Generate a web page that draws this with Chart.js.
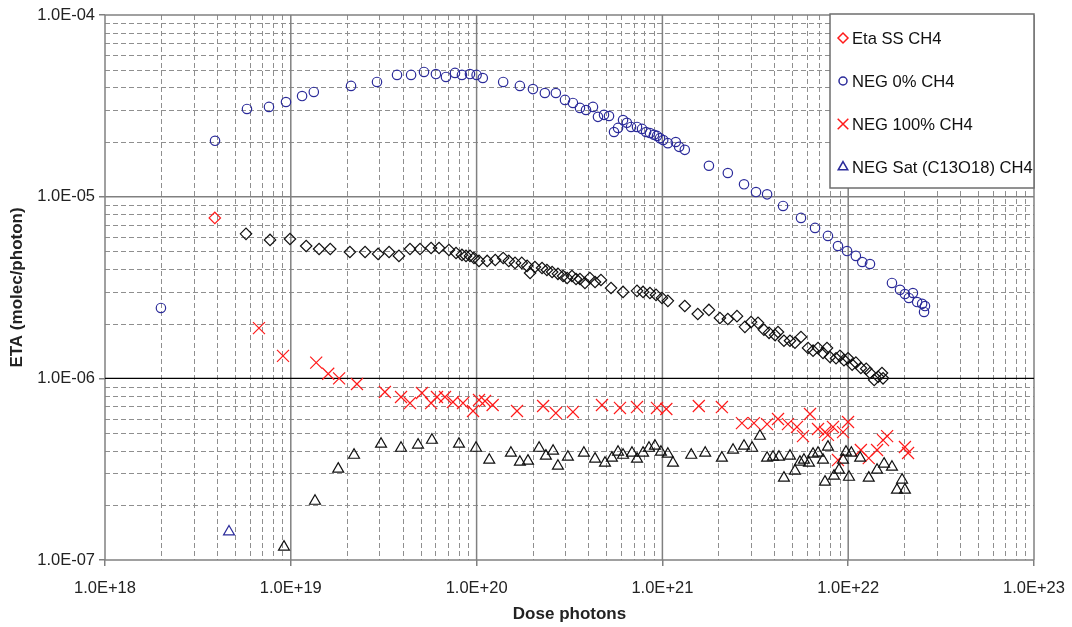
<!DOCTYPE html>
<html>
<head>
<meta charset="utf-8">
<script src="https://cdn.jsdelivr.net/npm/chart.js@4.4.1/dist/chart.umd.min.js"></script>
<style>
  body { margin: 0; background: #fff; }
  #wrap { width: 1072px; height: 627px; }
</style>
</head>
<body>
<div id="wrap"><canvas id="etaChart" width="1072" height="627"></canvas></div>
<script>
// tick values and labels
var xTickValues = [1e18, 1e19, 1e20, 1e21, 1e22, 1e23];
var xTickLabels = ['1.0E+18', '1.0E+19', '1.0E+20', '1.0E+21', '1.0E+22', '1.0E+23'];
var yTickValues = [1e-7, 1e-6, 1e-5, 1e-4];
var yTickLabels = ['1.0E-07', '1.0E-06', '1.0E-05', '1.0E-04'];

var seriesNames = ['Eta SS CH4', 'NEG 0% CH4', 'NEG 100% CH4', 'NEG Sat (C13O18) CH4'];

// Eta SS CH4 (diamonds, first point red)
var diaX = [3.9e18, 5.74e18, 7.73e18, 9.9e18, 1.21e19, 1.42e19, 1.63e19, 2.08e19, 2.51e19, 2.95e19,
  3.38e19, 3.82e19, 4.38e19, 4.96e19, 5.69e19, 6.28e19, 7.10e19, 7.75e19, 8.34e19, 8.77e19,
  9.21e19, 9.68e19, 1.03e20, 1.14e20, 1.26e20, 1.39e20, 1.49e20, 1.61e20, 1.75e20, 1.87e20,
  1.94e20, 2.06e20, 2.25e20, 2.39e20, 2.55e20, 2.74e20, 2.92e20, 3.07e20, 3.26e20, 3.43e20,
  3.60e20, 3.83e20, 4.07e20, 4.34e20, 4.67e20, 5.29e20, 6.14e20, 7.30e20, 7.87e20, 8.57e20,
  9.24e20, 9.95e20, 1.07e21, 1.32e21, 1.55e21, 1.78e21, 2.04e21, 2.25e21, 2.52e21, 2.78e21,
  3.00e21, 3.27e21, 3.52e21, 3.75e21, 4.04e21, 4.19e21, 4.51e21, 4.86e21, 5.17e21, 5.57e21,
  6.08e21, 6.47e21, 6.88e21, 7.32e21, 7.69e21, 7.98e21, 8.60e21, 9.03e21, 9.49e21, 9.98e21,
  1.05e22, 1.10e22, 1.17e22, 1.25e22, 1.31e22, 1.38e22, 1.45e22, 1.52e22, 1.54e22];
var diaY = [7.64e-6, 6.24e-6, 5.78e-6, 5.85e-6, 5.35e-6, 5.15e-6, 5.15e-6, 4.96e-6, 4.96e-6, 4.84e-6,
  4.96e-6, 4.72e-6, 5.15e-6, 5.15e-6, 5.22e-6, 5.22e-6, 5.09e-6, 4.90e-6, 4.78e-6, 4.72e-6,
  4.72e-6, 4.60e-6, 4.43e-6, 4.43e-6, 4.48e-6, 4.60e-6, 4.43e-6, 4.32e-6, 4.32e-6, 4.16e-6,
  3.80e-6, 4.10e-6, 4.05e-6, 3.95e-6, 3.85e-6, 3.76e-6, 3.66e-6, 3.57e-6, 3.66e-6, 3.52e-6,
  3.52e-6, 3.35e-6, 3.57e-6, 3.39e-6, 3.48e-6, 3.14e-6, 2.99e-6, 3.03e-6, 2.99e-6, 2.95e-6,
  2.88e-6, 2.77e-6, 2.67e-6, 2.50e-6, 2.26e-6, 2.38e-6, 2.15e-6, 2.12e-6, 2.20e-6, 1.92e-6,
  2.04e-6, 2.02e-6, 1.85e-6, 1.78e-6, 1.73e-6, 1.80e-6, 1.61e-6, 1.61e-6, 1.57e-6, 1.69e-6,
  1.47e-6, 1.42e-6, 1.47e-6, 1.38e-6, 1.47e-6, 1.31e-6, 1.29e-6, 1.33e-6, 1.26e-6, 1.29e-6,
  1.19e-6, 1.22e-6, 1.14e-6, 1.13e-6, 1.07e-6, 9.8e-7, 1.02e-6, 1.07e-6, 1.0e-6];

// NEG 0% CH4 (circles)
var circX = [2.0e18, 3.91e18, 5.81e18, 7.63e18, 9.42e18, 1.15e19, 1.33e19, 2.11e19, 2.91e19, 3.73e19,
  4.44e19, 5.21e19, 6.04e19, 6.84e19, 7.65e19, 8.34e19, 9.21e19, 1.0e20, 1.08e20, 1.39e20,
  1.71e20, 2.01e20, 2.33e20, 2.67e20, 2.99e20, 3.30e20, 3.60e20, 3.88e20, 4.23e20, 4.50e20,
  4.85e20, 5.16e20, 5.49e20, 5.77e20, 6.14e20, 6.44e20, 6.78e20, 7.30e20, 7.77e20, 8.17e20,
  8.57e20, 9.01e20, 9.35e20, 9.71e20, 1.01e21, 1.07e21, 1.18e21, 1.23e21, 1.32e21, 1.78e21,
  2.25e21, 2.75e21, 3.19e21, 3.66e21, 4.46e21, 5.57e21, 6.63e21, 7.78e21, 8.81e21, 9.86e21,
  1.10e22, 1.19e22, 1.31e22, 1.72e22, 1.90e22, 2.02e22, 2.12e22, 2.23e22, 2.35e22, 2.50e22,
  2.59e22, 2.56e22];
var circY = [2.44e-6, 2.03e-5, 3.04e-5, 3.12e-5, 3.32e-5, 3.58e-5, 3.77e-5, 4.07e-5, 4.28e-5, 4.68e-5,
  4.68e-5, 4.86e-5, 4.73e-5, 4.56e-5, 4.80e-5, 4.68e-5, 4.73e-5, 4.68e-5, 4.50e-5, 4.28e-5,
  4.07e-5, 3.91e-5, 3.72e-5, 3.72e-5, 3.41e-5, 3.28e-5, 3.08e-5, 3.00e-5, 3.12e-5, 2.75e-5,
  2.82e-5, 2.78e-5, 2.27e-5, 2.39e-5, 2.64e-5, 2.55e-5, 2.42e-5, 2.42e-5, 2.36e-5, 2.27e-5,
  2.24e-5, 2.19e-5, 2.16e-5, 2.10e-5, 2.05e-5, 1.97e-5, 2.0e-5, 1.88e-5, 1.81e-5, 1.48e-5,
  1.35e-5, 1.17e-5, 1.06e-5, 1.03e-5, 8.89e-6, 7.64e-6, 6.73e-6, 6.08e-6, 5.35e-6, 5.02e-6,
  4.72e-6, 4.37e-6, 4.26e-6, 3.35e-6, 3.07e-6, 2.91e-6, 2.77e-6, 2.95e-6, 2.63e-6, 2.57e-6,
  2.50e-6, 2.32e-6];

// NEG 100% CH4 (crosses)
var crossX = [6.74e18, 9.08e18, 1.37e19, 1.59e19, 1.82e19, 2.27e19, 3.21e19, 3.92e19, 4.38e19, 5.08e19,
  5.69e19, 6.12e19, 6.76e19, 7.46e19, 8.45e19, 9.57e19, 1.03e20, 1.11e20, 1.22e20, 1.65e20,
  2.28e20, 2.67e20, 3.30e20, 4.73e20, 5.91e20, 7.30e20, 9.35e20, 1.05e21, 1.57e21, 2.09e21,
  2.68e21, 3.11e21, 3.66e21, 4.19e21, 4.74e21, 5.30e21, 5.71e21, 6.23e21, 6.88e21, 7.50e21,
  7.78e21, 8.28e21, 8.81e21, 9.38e21, 9.98e21, 1.17e22, 1.29e22, 1.43e22, 1.54e22, 1.62e22,
  2.02e22, 2.10e22];
var crossY = [1.89e-6, 1.33e-6, 1.22e-6, 1.06e-6, 1.0e-6, 9.31e-7, 8.41e-7, 7.89e-7, 7.31e-7, 8.30e-7,
  7.31e-7, 7.89e-7, 7.89e-7, 7.41e-7, 7.31e-7, 6.61e-7, 7.60e-7, 7.50e-7, 7.13e-7, 6.61e-7,
  7.04e-7, 6.44e-7, 6.53e-7, 7.13e-7, 6.87e-7, 6.95e-7, 6.87e-7, 6.78e-7, 7.04e-7, 6.95e-7,
  5.67e-7, 5.67e-7, 5.60e-7, 5.97e-7, 5.60e-7, 5.40e-7, 4.81e-7, 6.36e-7, 5.26e-7, 5.06e-7,
  4.88e-7, 5.40e-7, 3.55e-7, 5.06e-7, 5.75e-7, 4.03e-7, 3.64e-7, 4.03e-7, 4.57e-7, 4.81e-7,
  4.19e-7, 3.88e-7];

// NEG Sat (C13O18) CH4 (triangles, first point blue)
var triX = [4.65e18, 9.19e18, 1.35e19, 1.80e19, 2.19e19, 3.06e19, 3.92e19, 4.84e19, 5.75e19, 8.04e19,
  9.93e19, 1.17e20, 1.53e20, 1.71e20, 1.89e20, 2.17e20, 2.36e20, 2.58e20, 2.74e20, 3.10e20,
  3.78e20, 4.34e20, 4.91e20, 5.35e20, 5.77e20, 6.14e20, 6.86e20, 7.30e20, 7.87e20, 8.47e20,
  9.12e20, 9.82e20, 1.07e21, 1.14e21, 1.43e21, 1.70e21, 2.09e21, 2.40e21, 2.75e21, 3.04e21,
  3.35e21, 3.66e21, 3.94e21, 4.24e21, 4.51e21, 4.86e21, 5.17e21, 5.50e21, 5.78e21, 6.15e21,
  6.47e21, 6.88e21, 7.32e21, 7.78e21, 7.50e21, 8.39e21, 8.92e21, 9.38e21, 9.73e21, 1.04e22,
  1.01e22, 1.16e22, 1.29e22, 1.43e22, 1.56e22, 1.72e22, 1.95e22, 1.83e22, 2.02e22];
var triY = [1.43e-7, 1.18e-7, 2.11e-7, 3.17e-7, 3.78e-7, 4.35e-7, 4.13e-7, 4.30e-7, 4.57e-7, 4.35e-7,
  4.13e-7, 3.55e-7, 3.88e-7, 3.46e-7, 3.51e-7, 4.13e-7, 3.74e-7, 3.98e-7, 3.29e-7, 3.69e-7,
  3.88e-7, 3.60e-7, 3.42e-7, 3.64e-7, 3.93e-7, 3.78e-7, 3.88e-7, 3.60e-7, 3.88e-7, 4.13e-7,
  4.24e-7, 3.93e-7, 3.83e-7, 3.42e-7, 3.78e-7, 3.88e-7, 3.64e-7, 4.03e-7, 4.24e-7, 4.13e-7,
  4.81e-7, 3.64e-7, 3.69e-7, 3.69e-7, 2.83e-7, 3.74e-7, 3.09e-7, 3.46e-7, 3.55e-7, 3.42e-7,
  3.83e-7, 3.88e-7, 3.55e-7, 4.19e-7, 2.69e-7, 2.90e-7, 3.13e-7, 3.55e-7, 3.93e-7, 3.88e-7,
  2.86e-7, 3.64e-7, 2.83e-7, 3.13e-7, 3.38e-7, 3.25e-7, 2.76e-7, 2.43e-7, 2.43e-7];

const RED = '#ff1a1a';
const BLUE = '#2b2b9a';
const BLACK = '#111111';
const FONT = '"Liberation Sans", Arial, sans-serif';

function zip(xs, ys) {
  return xs.map((x, i) => ({ x: x, y: ys[i] }));
}

// dashed minor grid + solid decade grid, drawn from the scales
const logGrid = {
  id: 'logGrid',
  beforeDatasetsDraw(chart) {
    const ctx = chart.ctx;
    const xs = chart.scales.x, ys = chart.scales.y;
    const a = chart.chartArea;
    ctx.save();
    ctx.lineWidth = 1;
    ctx.strokeStyle = '#8f8f8f';
    ctx.setLineDash([5, 3]);
    xTickValues.slice(0, -1).forEach(d => {
      for (let m = 2; m <= 9; m++) {
        const px = Math.round(xs.getPixelForValue(d * m)) + 0.5;
        ctx.beginPath(); ctx.moveTo(px, a.top); ctx.lineTo(px, a.bottom); ctx.stroke();
      }
    });
    yTickValues.slice(0, -1).forEach(d => {
      for (let m = 2; m <= 9; m++) {
        const py = Math.round(ys.getPixelForValue(d * m)) + 0.5;
        ctx.beginPath(); ctx.moveTo(a.left, py); ctx.lineTo(a.right, py); ctx.stroke();
      }
    });
    ctx.setLineDash([]);
    ctx.lineWidth = 1.5;
    ctx.strokeStyle = '#808080';
    xTickValues.forEach(v => {
      const px = xs.getPixelForValue(v);
      ctx.beginPath(); ctx.moveTo(px, a.top); ctx.lineTo(px, a.bottom); ctx.stroke();
    });
    yTickValues.forEach(v => {
      const py = ys.getPixelForValue(v);
      ctx.strokeStyle = v === 1e-6 ? '#000' : '#808080';
      ctx.lineWidth = v === 1e-6 ? 1.2 : 1.5;
      ctx.beginPath(); ctx.moveTo(a.left, py); ctx.lineTo(a.right, py); ctx.stroke();
    });
    ctx.restore();
  }
};

// legend box in the top right of the plot
const boxLegend = {
  id: 'boxLegend',
  afterDraw(chart) {
    const ctx = chart.ctx;
    const a = chart.chartArea;
    const left = 830, top = a.top - 1, w = a.right - 830, h = 174;
    const styles = [
      { pointStyle: 'rectRot', radius: 5, color: RED },
      { pointStyle: 'circle', radius: 4, color: BLUE },
      { pointStyle: 'crossRot', radius: 7.5, color: RED },
      { pointStyle: 'triangle', radius: 5.5, color: BLUE }
    ];
    ctx.save();
    ctx.fillStyle = '#fff';
    ctx.fillRect(left, top, w, h);
    ctx.strokeStyle = '#6e6e6e';
    ctx.lineWidth = 1.5;
    ctx.strokeRect(left, top, w, h);
    seriesNames.forEach((name, i) => {
      const cy = top + 24 + i * 43;
      const s = styles[i];
      ctx.strokeStyle = s.color;
      ctx.fillStyle = 'rgba(0,0,0,0)';
      Chart.helpers.drawPoint(ctx, { pointStyle: s.pointStyle, radius: s.radius, borderWidth: 1.1, rotation: 0 }, 843, cy);
      ctx.fillStyle = '#111';
      ctx.font = '16.6px ' + FONT;
      ctx.textBaseline = 'middle';
      ctx.textAlign = 'left';
      ctx.fillText(name, 852, cy + 1);
    });
    ctx.restore();
  }
};

function firstPointColor(first, rest) {
  return ctx => ctx.dataIndex === 0 ? first : rest;
}

const ctx = document.getElementById('etaChart');
new Chart(ctx, {
  type: 'scatter',
  data: {
    datasets: [{
      label: seriesNames[0],
      data: zip(diaX, diaY),
      pointStyle: 'rectRot',
      pointRadius: 5.7,
      pointBorderWidth: 1.2,
      pointBackgroundColor: 'rgba(0,0,0,0)',
      pointBorderColor: firstPointColor(RED, BLACK),
      order: 2
    }, {
      label: seriesNames[1],
      data: zip(circX, circY),
      pointStyle: 'circle',
      pointRadius: 4.7,
      pointBorderWidth: 1.2,
      pointBackgroundColor: 'rgba(0,0,0,0)',
      pointBorderColor: BLUE,
      order: 3
    }, {
      label: seriesNames[2],
      data: zip(crossX, crossY),
      pointStyle: 'crossRot',
      pointRadius: 8.5,
      pointBorderWidth: 1.2,
      pointBorderColor: RED,
      order: 1
    }, {
      label: seriesNames[3],
      data: zip(triX, triY),
      pointStyle: 'triangle',
      pointRadius: 6.3,
      pointBorderWidth: 1.2,
      pointBackgroundColor: 'rgba(0,0,0,0)',
      pointBorderColor: firstPointColor(BLUE, BLACK),
      order: 0
    }]
  },
  options: {
    responsive: false,
    animation: false,
    events: [],
    layout: { padding: { top: 15, right: 38, bottom: 0, left: 0 } },
    plugins: {
      legend: { display: false },
      tooltip: { enabled: false }
    },
    scales: {
      x: {
        type: 'logarithmic',
        min: 1e18,
        max: 1e23,
        afterBuildTicks: scale => { scale.ticks = xTickValues.map(v => ({ value: v })); },
        afterFit: scale => { scale.height = 67; scale.paddingRight = 0; scale.paddingLeft = 0; },
        ticks: {
          color: '#222',
          font: { family: FONT, size: 16.5 },
          padding: 13,
          maxRotation: 0,
          autoSkip: false,
          callback: (value, index) => xTickLabels[index]
        },
        grid: { drawOnChartArea: false, color: '#808080', tickLength: 6, lineWidth: 1.5 },
        border: { display: false },
        title: {
          display: true,
          text: 'Dose photons',
          color: '#222',
          font: { family: FONT, size: 17, weight: 'bold' },
          padding: { top: 0, bottom: 2 }
        }
      },
      y: {
        type: 'logarithmic',
        min: 1e-7,
        max: 1e-4,
        afterBuildTicks: scale => { scale.ticks = yTickValues.map(v => ({ value: v })); },
        afterFit: scale => { scale.width = 105; scale.paddingTop = 0; scale.paddingBottom = 0; },
        ticks: {
          color: '#222',
          font: { family: FONT, size: 16.5 },
          padding: 4,
          autoSkip: false,
          callback: (value, index) => yTickLabels[index]
        },
        grid: { drawOnChartArea: false, color: '#808080', tickLength: 6, lineWidth: 1.5 },
        border: { display: false },
        title: {
          display: true,
          text: 'ETA (molec/photon)',
          color: '#222',
          font: { family: FONT, size: 17, weight: 'bold' },
          padding: { top: 7, bottom: 0 }
        }
      }
    }
  },
  plugins: [logGrid, boxLegend]
});
</script>
</body>
</html>
